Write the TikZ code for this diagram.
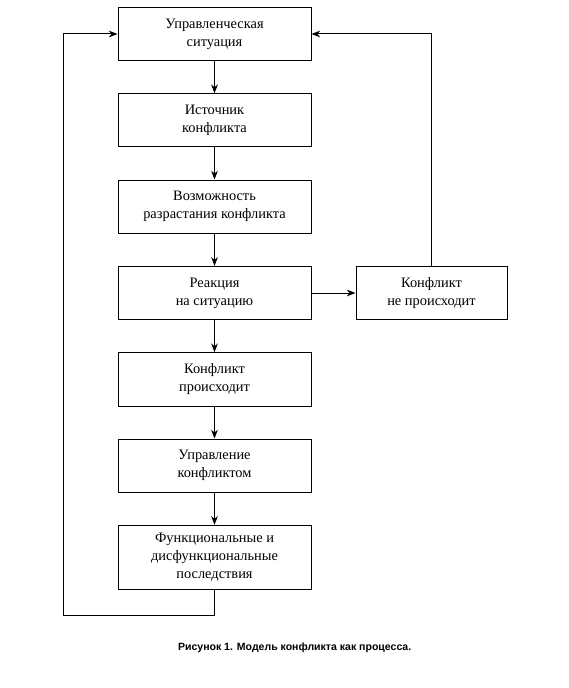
\documentclass[tikz,border=0pt]{standalone}
\usepackage{fontspec}
\setmainfont{Liberation Serif}
\newfontfamily\captionfont{Liberation Sans}
\usepackage{tikz}
\usetikzlibrary{arrows.meta, positioning}
\newcommand{\minwidth}{144.75pt}
\newcommand{\minheight}{40pt}
\tikzstyle{block} = [% a stage of the conflict
  rectangle,
  minimum width=\minwidth,
  minimum height=\minheight,
  align=center,
  font=\fontsize{10.8pt}{13.5pt}\selectfont,
  draw=black,
  line width=0.75pt
]
\tikzstyle{arrow} = [% arrow format
  ->,
  >={Stealth[length=6.5pt, width=5pt, inset=2pt]},
  line width=0.75pt
]

\begin{document}
\begin{tikzpicture}[node distance=24pt]
\useasboundingbox (0,0) rectangle (426pt,-516pt);

%%% Nodes
\node[block] (situation) at (160.875pt,-25.5pt) {Управленческая\\ситуация};
\node[block] (source) [below=of situation] {Источник\\конфликта};
\node[block] (growth) [below=of source] {Возможность\\разрастания конфликта};
\node[block] (reaction) [below=of growth] {Реакция\\на ситуацию};
\node[block, minimum width=113.25pt] (noconflict) [right=33pt of reaction] {Конфликт\\не происходит};
\node[block] (conflict) [below=of reaction] {Конфликт\\происходит};
\node[block] (management) [below=of conflict] {Управление\\конфликтом};
\node[block, minimum height=48pt] (consequences) [below=of management] {Функциональные и\\дисфункциональные\\последствия};

\node[font=\captionfont\bfseries\fontsize{7.9pt}{9pt}\selectfont] (caption) at (221pt,-485.5pt) {Рисунок 1. Модель конфликта как процесса.};

%%% Arrows
\draw[arrow] (situation) -- (source);
\draw[arrow] (source) -- (growth);
\draw[arrow] (growth) -- (reaction);
\draw[arrow] (reaction) -- (conflict);
\draw[arrow] (conflict) -- (management);
\draw[arrow] (management) -- (consequences);
\draw[arrow] (reaction) -- (noconflict);
\draw[arrow] (noconflict.north) |- (situation.east);
\draw[arrow] (consequences.south) -- ++(0,-19.5pt) -| ([xshift=-40.5pt]situation.west) -- (situation.west);

\end{tikzpicture}
\end{document}
